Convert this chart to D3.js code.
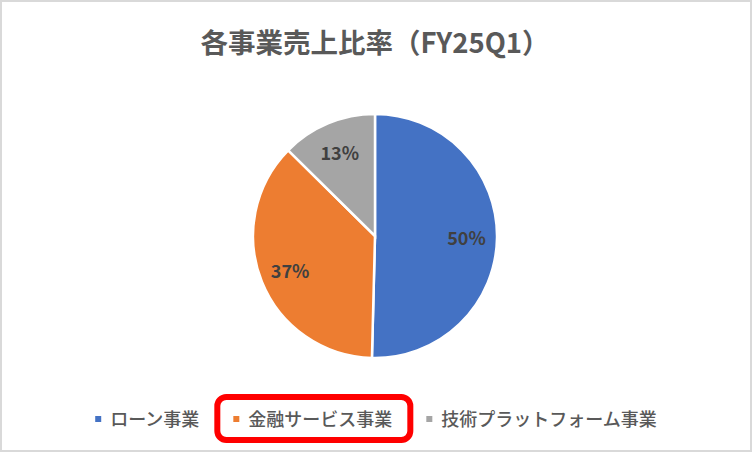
<!DOCTYPE html>
<html>
<head>
<meta charset="utf-8">
<script src="https://cdn.jsdelivr.net/npm/d3@7"></script>
<style>
  html, body { margin: 0; padding: 0; background: #fff; }
  svg { display: block; }
</style>
</head>
<body>
<svg id="chart" width="752" height="452"></svg>
<script>
const categories = ["ローン事業", "金融サービス事業", "技術プラットフォーム事業"];
const shares = [50.4, 37.0, 12.6];
const shareLabels = ["50%", "37%", "13%"];
const colors = ["#4472C4", "#ED7D31", "#A5A5A5"];
const highlighted = "金融サービス事業";

const svg = d3.select("svg#chart");
let width = +svg.attr("width");
let height = +svg.attr("height");
const font = "'Noto Sans CJK JP', 'Noto Sans', sans-serif";

// chart frame
svg.append("rect")
    .attr("x", 1).attr("y", 1)
    .attr("width", width - 2).attr("height", height - 2)
    .attr("fill", "#fff")
    .attr("stroke", "#d9d9d9")
    .attr("stroke-width", 2);

svg.append("text")
    .attr("x", width / 2 - 1)
    .attr("y", 53)
    .attr("text-anchor", "middle")
    .style("font-family", font)
    .style("font-size", "27.5px")
    .style("font-weight", 600)
    .style("fill", "#595959")
    .text("各事業売上比率（FY25Q1）");

// pie
let cx = 375, cy = 236, radius = 122;
let pie = d3.pie().sort(null).value(d => d.value);
let arcs = pie(categories.map((c, i) => ({name: c, value: shares[i], label: shareLabels[i]})));
let arc = d3.arc().innerRadius(0).outerRadius(radius);
let labelArc = d3.arc().innerRadius(radius * 0.75).outerRadius(radius * 0.75);
let colorScale = d3.scaleOrdinal().domain(categories).range(colors);

let g = svg.append("g").attr("transform", `translate(${cx}, ${cy})`);
g.selectAll("path")
    .data(arcs)
    .join("path")
    .attr("d", arc)
    .attr("fill", d => colorScale(d.data.name))
    .attr("stroke", "#fff")
    .attr("stroke-width", 2.5);

g.selectAll("text")
    .data(arcs)
    .join("text")
    .attr("transform", d => `translate(${labelArc.centroid(d)})`)
    .attr("text-anchor", "middle")
    .attr("dominant-baseline", "central")
    .style("font-family", font)
    .style("font-size", "18px")
    .style("font-weight", "bold")
    .style("fill", "#404040")
    .text(d => d.data.label);

// legend, laid out from the measured text widths and centred
let legend = svg.append("g");
let items = legend.selectAll("g.item")
    .data(categories)
    .join("g")
    .attr("class", "item");
items.append("rect")
    .attr("width", 6).attr("height", 6)
    .attr("y", -10)
    .attr("fill", d => colorScale(d));
items.append("text")
    .attr("x", 15)
    .style("font-family", font)
    .style("font-size", "18px")
    .style("font-weight", 500)
    .style("fill", "#595959")
    .text(d => d);

let gap = 34, x = 0, spans = [];
items.each(function () {
    let w = 15 + d3.select(this).select("text").node().getComputedTextLength();
    d3.select(this).attr("transform", `translate(${x}, 0)`);
    spans.push([x, w]);
    x += w + gap;
});
let total = x - gap;
let lx = (width - total) / 2, ly = 426;
legend.attr("transform", `translate(${lx}, ${ly})`);

// highlight box round the chosen legend entry
let hi = categories.indexOf(highlighted);
legend.append("rect")
    .attr("x", spans[hi][0] - 16)
    .attr("y", -29)
    .attr("width", spans[hi][1] + 34)
    .attr("height", 43)
    .attr("rx", 9)
    .attr("fill", "none")
    .attr("stroke", "#ff0000")
    .attr("stroke-width", 6);
</script>
</body>
</html>
